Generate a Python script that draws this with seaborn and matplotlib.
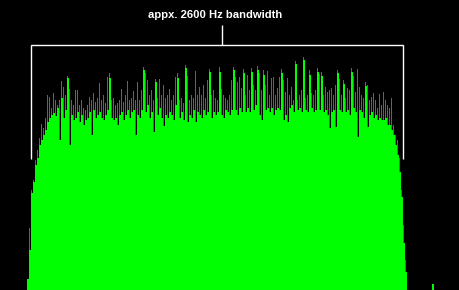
import matplotlib
matplotlib.use("Agg")
import matplotlib.pyplot as plt
import seaborn as sns
import numpy as np

# spectrum bins (Hz-like axis, screen-scaled) and levels below the top reference
freq_bins = [28, 30, 32, 34, 36, 38, 40, 42, 44, 46, 48, 50, 52, 54, 56, 58, 60, 62, 64, 66,
             68, 70, 72, 74, 76, 78, 80, 82, 84, 86, 88, 90, 92, 94, 96, 98, 100, 102, 104, 106,
             108, 110, 112, 114, 116, 118, 120, 122, 124, 126, 128, 130, 132, 134, 136, 138, 140, 142, 144, 146,
             148, 150, 152, 154, 156, 158, 160, 162, 164, 166, 168, 170, 172, 174, 176, 178, 180, 182, 184, 186,
             188, 190, 192, 194, 196, 198, 200, 202, 204, 206, 208, 210, 212, 214, 216, 218, 220, 222, 224, 226,
             228, 230, 232, 234, 236, 238, 240, 242, 244, 246, 248, 250, 252, 254, 256, 258, 260, 262, 264, 266,
             268, 270, 272, 274, 276, 278, 280, 282, 284, 286, 288, 290, 292, 294, 296, 298, 300, 302, 304, 306,
             308, 310, 312, 314, 316, 318, 320, 322, 324, 326, 328, 330, 332, 334, 336, 338, 340, 342, 344, 346,
             348, 350, 352, 354, 356, 358, 360, 362, 364, 366, 368, 370, 372, 374, 376, 378, 380, 382, 384, 386,
             388, 390, 392, 394, 396, 398, 400, 402, 404, 406, 433]

# peak-hold level (dark green), depth below top
peak_below = [279, 228, 190, 180, 160, 150, 138, 124, 128, 118, 95, 97, 108, 93, 100, 105, 100, 81, 87, 95,
              76, 89, 100, 105, 90, 90, 105, 100, 108, 110, 105, 97, 100, 93, 102, 98, 83, 100, 95, 103,
              77, 73, 100, 98, 105, 103, 100, 89, 102, 95, 81, 100, 98, 91, 100, 82, 100, 90, 67, 73,
              80, 95, 90, 100, 79, 98, 79, 95, 85, 98, 95, 89, 100, 95, 77, 73, 100, 98, 103, 65,
              76, 100, 95, 98, 71, 95, 87, 95, 85, 98, 80, 69, 95, 90, 98, 100, 67, 89, 95, 98,
              100, 95, 80, 67, 77, 82, 77, 88, 69, 95, 75, 90, 68, 85, 90, 66, 73, 90, 70, 85,
              71, 95, 78, 77, 95, 88, 77, 69, 80, 92, 78, 95, 87, 100, 61, 100, 95, 90, 57, 98,
              95, 70, 93, 95, 90, 68, 74, 72, 95, 87, 92, 90, 88, 95, 85, 70, 79, 95, 80, 98,
              88, 90, 68, 76, 92, 69, 87, 95, 98, 82, 85, 100, 97, 93, 100, 108, 94, 105, 92, 100,
              105, 108, 98, 125, 135, 140, 158, 190, 225, 260, 284]

# current level (bright green), depth below top
current_below = [279, 250, 193, 182, 165, 158, 145, 140, 135, 130, 122, 118, 115, 113, 116, 108, 140, 98, 118, 110,
                 78, 145, 115, 120, 118, 112, 122, 115, 125, 120, 118, 112, 135, 110, 118, 115, 112, 118, 120, 115,
                 110, 78, 118, 120, 118, 125, 115, 112, 120, 115, 110, 118, 112, 110, 135, 115, 118, 110, 70, 112,
                 105, 118, 112, 132, 82, 115, 108, 118, 126, 115, 118, 112, 115, 120, 105, 78, 118, 112, 120, 68,
                 122, 115, 118, 110, 122, 112, 115, 118, 110, 115, 112, 72, 118, 112, 115, 112, 72, 115, 118, 110,
                 112, 115, 110, 70, 110, 115, 108, 112, 73, 112, 108, 112, 72, 110, 105, 70, 115, 120, 75, 110,
                 108, 112, 108, 115, 110, 108, 110, 73, 120, 115, 122, 108, 105, 112, 64, 110, 108, 112, 60, 110,
                 112, 75, 108, 112, 110, 72, 110, 76, 112, 110, 115, 128, 112, 110, 127, 73, 110, 112, 84, 112,
                 110, 115, 72, 108, 112, 137, 110, 112, 118, 86, 127, 115, 112, 118, 115, 120, 118, 120, 120, 118,
                 125, 125, 130, 135, 145, 155, 172, 197, 243, 272, 284]

bracket_label = "appx. 2600 Hz bandwidth"

TOP = 290
peak_level = TOP - np.array(peak_below)
current_level = TOP - np.array(current_below)

sns.set_theme(style="white")
fig = plt.figure(figsize=(4.6, 2.9), dpi=100, facecolor="black")
ax = fig.add_axes([0, 0, 1, 1])
ax.set_facecolor("black")

sns.barplot(x=freq_bins, y=peak_level, native_scale=True, width=0.5, color="#00a800",
            saturation=1, errorbar=None, linewidth=0, ax=ax)
sns.barplot(x=freq_bins, y=current_level, native_scale=True, width=1.0, color="#00ff00",
            saturation=1, errorbar=None, linewidth=0, ax=ax)
for p in ax.patches:
    p.set_antialiased(False)

ax.set_xlim(0, 460)
ax.set_ylim(0, TOP)
ax.axis("off")

# bandwidth bracket
lw = 1.0
ax.plot([31, 31, 403, 403], [TOP - 159, TOP - 45, TOP - 45, TOP - 159], color="white", lw=lw,
        solid_capstyle="butt", solid_joinstyle="miter")
ax.plot([222, 222], [TOP - 45, TOP - 25], color="white", lw=lw, solid_capstyle="butt")
ax.text(215, TOP - 15, bracket_label, color="white", fontsize=8.1, fontweight="bold",
        family=["Liberation Sans", "DejaVu Sans"], ha="center", va="center")

fig.savefig("out.png", dpi=100, facecolor="black")
